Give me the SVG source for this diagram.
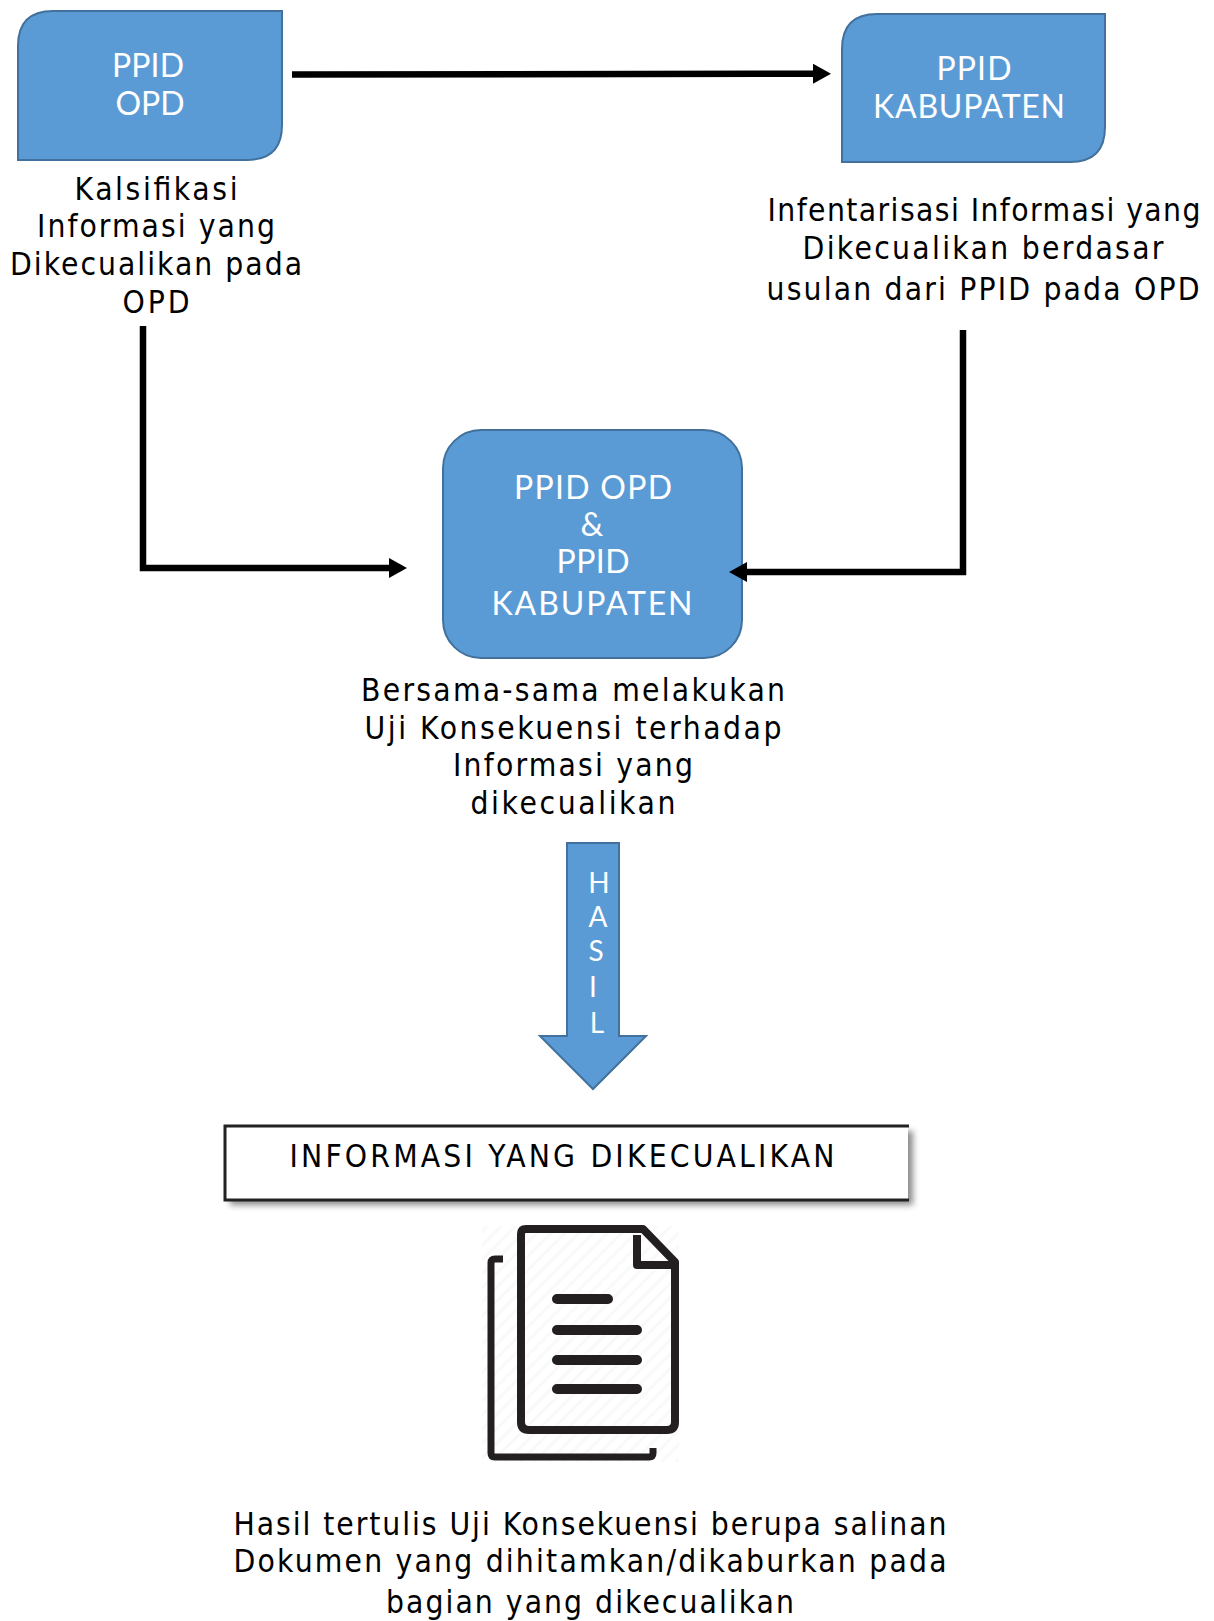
<svg xmlns="http://www.w3.org/2000/svg" width="1214" height="1621" viewBox="0 0 1214 1621">
<style>
.n{fill:#5b9bd5;stroke:#41719c;stroke-width:2}
.w{font-family:Lato,"Open Sans",sans-serif;fill:#fff;font-size:32px;text-anchor:middle}
.h{font-size:28px}
.b{font-family:"DejaVu Sans",sans-serif;font-stretch:condensed;fill:#000;font-size:31.500px;text-anchor:middle}
.c{fill:none;stroke:#000;stroke-width:6.500}
.i{fill:none;stroke:#231f20;stroke-width:8;stroke-linejoin:round}
.l{stroke:#231f20;stroke-width:10;stroke-linecap:round}
</style>
<defs>
<marker id="a" markerUnits="userSpaceOnUse" markerWidth="22" markerHeight="22" refX="8" refY="10" orient="auto"><path d="M0 0L18 10L0 20z" fill="#000"/></marker>
<pattern id="h" width="10" height="10" patternUnits="userSpaceOnUse" patternTransform="rotate(45)"><rect width="3" height="10" fill="#f9f9f9"/></pattern>
<filter id="s" x="-5%" y="-20%" width="110%" height="140%"><feDropShadow dx="5" dy="5" stdDeviation="3" flood-color="#000" flood-opacity="0.45"/></filter>
</defs>
<g id="node-opd">
<path class="n" d="M18 160V46Q18 11 53 11H282V125Q282 160 247 160Z"/>
<text class="w" x="148" y="77" textLength="72">PPID</text>
<text class="w" x="150" y="115" textLength="69">OPD</text>
<text class="b" x="156" y="200" textLength="163">Kalsifikasi</text>
<text class="b" x="156" y="237" textLength="238">Informasi yang</text>
<text class="b" x="156" y="275" textLength="292">Dikecualikan pada</text>
<text class="b" x="156" y="313" textLength="67">OPD</text>
</g>
<g id="node-kabupaten">
<path class="n" d="M842 162V49Q842 14 877 14H1105V127Q1105 162 1070 162Z"/>
<text class="w" x="974" y="80" textLength="75">PPID</text>
<text class="w" x="969" y="118" textLength="192">KABUPATEN</text>
<text class="b" x="984" y="221" textLength="433">Infentarisasi Informasi yang</text>
<text class="b" x="983" y="259" textLength="361">Dikecualikan berdasar</text>
<text class="b" x="983" y="300" textLength="433">usulan dari PPID pada OPD</text>
</g>
<g id="node-bersama">
<rect class="n" x="443" y="430" width="299" height="228" rx="38"/>
<text class="w" x="593" y="499" textLength="158">PPID OPD</text>
<text class="w" x="592" y="536">&amp;</text>
<text class="w" x="593" y="573" textLength="73">PPID</text>
<text class="w" x="592" y="615" textLength="201">KABUPATEN</text>
<text class="b" x="573" y="701" textLength="424">Bersama-sama melakukan</text>
<text class="b" x="573" y="739" textLength="417">Uji Konsekuensi terhadap</text>
<text class="b" x="573" y="776" textLength="240">Informasi yang</text>
<text class="b" x="573" y="814" textLength="205">dikecualikan</text>
</g>
<g id="node-hasil">
<path class="n" d="M567 843H619V1036H646L593 1089L540 1036H567Z"/>
<text class="w h"><tspan x="599" y="893">H</tspan><tspan x="598" y="927">A</tspan><tspan x="596" y="961">S</tspan><tspan x="593" y="997">I</tspan><tspan x="597" y="1033">L</tspan></text>
</g>
<g id="node-informasi">
<rect x="225" y="1126" width="683" height="74" fill="#fff" filter="url(#s)"/>
<path d="M909 1126H225V1200H909" fill="none" stroke="#222" stroke-width="3"/>
<text class="b" x="562" y="1167" textLength="545">INFORMASI YANG DIKECUALIKAN</text>
</g>
<g id="icon">
<rect x="482" y="1226" width="197" height="236" fill="url(#h)"/>
<path class="i" d="M526 1229H643L675 1262V1422Q675 1430 667 1430H529Q521 1430 521 1422V1234Q521 1229 526 1229Z"/>
<path class="i" d="M637 1235V1265H672"/>
<path class="i" style="stroke-width:7" d="M503 1259H495Q491 1259 491 1263V1453Q491 1457 495 1457H649Q653 1457 653 1453V1448"/>
<path class="l" d="M557 1299H608M557 1330H637M557 1360H637M557 1389H637"/>
</g>
<g id="caption">
<text class="b" x="590" y="1535" textLength="713">Hasil tertulis Uji Konsekuensi berupa salinan</text>
<text class="b" x="590" y="1572" textLength="713">Dokumen yang dihitamkan/dikaburkan pada</text>
<text class="b" x="590" y="1613" textLength="408">bagian yang dikecualikan</text>
</g>
<g id="connectors">
<path class="c" d="M292 74.500L821 73.700" marker-end="url(#a)"/>
<path class="c" d="M143 326V568H397" marker-end="url(#a)"/>
<path class="c" d="M963 330V572H739" marker-end="url(#a)"/>
</g>
</svg>
